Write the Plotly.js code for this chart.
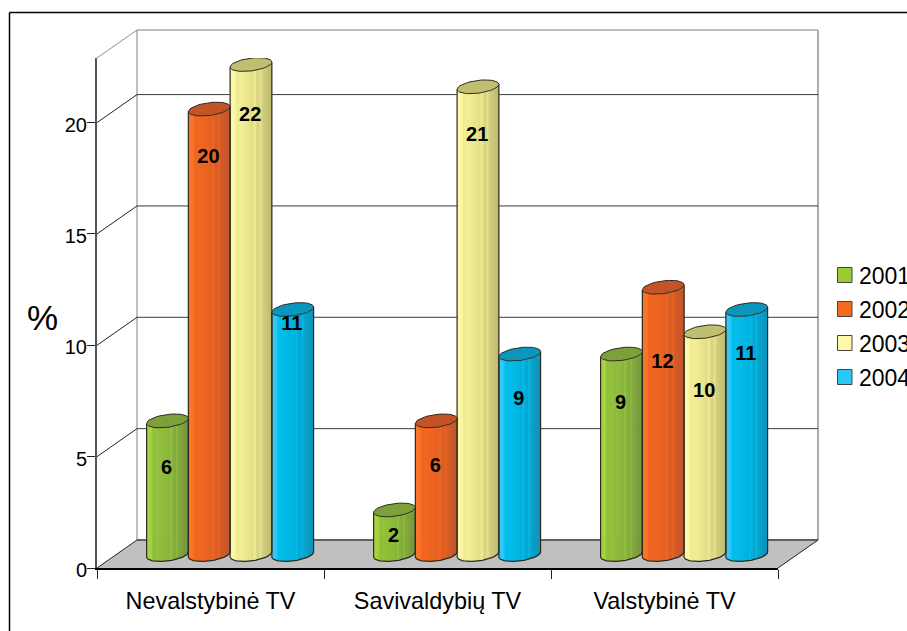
<!DOCTYPE html>
<html>
<head>
<meta charset="utf-8">
<script src="https://cdn.plot.ly/plotly-3.0.1.min.js"></script>
<style>html,body{margin:0;padding:0;background:#fff;overflow:hidden}#chart{width:907px;height:631px}</style>
</head>
<body>
<div id="chart"></div>
<script>
// ---- data ----
var categories = ['Nevalstybinė TV', 'Savivaldybių TV', 'Valstybinė TV'];
var seriesNames = ['2001', '2002', '2003', '2004'];
var v2001 = [6, 2, 9];
var v2002 = [20, 6, 12];
var v2003 = [22, 21, 10];
var v2004 = [11, 9, 11];
// heights at which each value label was placed in the original, in axis units
var label2001 = [4.46, 1.38, 7.36];
var label2002 = [18.42, 4.53, 9.2];
var label2003 = [20.28, 19.42, 7.9];
var label2004 = [10.9, 7.56, 9.56];
var yTicks = [0, 5, 10, 15, 20];

// ---- styling ----
var seriesValues = [v2001, v2002, v2003, v2004];
var seriesLabels = [label2001, label2002, label2003, label2004];
var ramps = [
  ['#A6D23E', '#8FBF38', '#75973A'],
  ['#FA7428', '#F06620', '#C4552B'],
  ['#FDF8A8', '#F0EC93', '#BFBC72'],
  ['#33C8F8', '#00BCE9', '#0A92BA']
];
var topColors = ['#7DA03A', '#C45426', '#C0BE70', '#0B96BE'];
var swatchColors = ['#99CC33', '#F56A20', '#FFF8A6', '#2CC5F7'];
var shade = [0, 0, 0.2, 1, 1, 0.9, 1, 1.05, 1.1, 1.15, 1.2, 1.3, 1.0, 1.4, 1.5, 1.2, 1.6, 1.7, 1.8, 1.9, 2];

// ---- plot geometry (pixels of the 907x631 page) ----
var L = 97, R = 778, T = 58, B = 568;
var W = R - L, H = B - T;
var yMax = 22.9, unit = H / yMax;
var depthX = 40, depthY = 28;
function pX(p) { return (p - L) / W; }
function pY(p) { return (B - p) / H; }
var slot = W / 3;
var groupStart = 49.6 / slot, barW = (167 / 4) / slot;
var baseLift = 13.5 / unit;          // cylinder centre sits above the axis
var halfH = 6.4 / unit, shear = 2.5 / unit;
var labelNudge = -0.8 / slot;

function hexMix(a, b, t) {
  var out = '#';
  for (var i = 1; i < 7; i += 2) {
    var va = parseInt(a.substr(i, 2), 16), vb = parseInt(b.substr(i, 2), 16);
    var c = Math.round(va + (vb - va) * t).toString(16);
    out += (c.length < 2 ? '0' : '') + c;
  }
  return out;
}
function rampColor(r, p) { return p <= 1 ? hexMix(r[0], r[1], p) : hexMix(r[1], r[2], p - 1); }

var traces = [];
var N = shade.length;
var tops = [], outlines = [], labels = [];

seriesValues.forEach(function (vals, s) {
  var sx = [], sb = [], sy = [], sc = [];
  var topX = [], topY = [], outX = [], outY = [], labX = [], labY = [], labT = [];
  vals.forEach(function (v, c) {
    var x0 = c + groupStart + s * barW;
    var cx = x0 + barW / 2;
    for (var k = 0; k < N; k++) {
      var xs = x0 + (k + 0.5) * barW / N;
      var t = (xs - cx) / (barW / 2);
      sx.push(xs);
      sb.push(baseLift + shear * t - halfH * Math.sqrt(1 - t * t));
      sy.push(v);
      sc.push(rampColor(ramps[s], shade[k]));
    }
    for (var a = 0; a <= 48; a++) {
      var th = a / 48 * 2 * Math.PI, ct = Math.cos(th), st = Math.sin(th);
      topX.push(cx + ct * barW / 2);
      topY.push(v + baseLift + shear * ct + halfH * st);
    }
    topX.push(null); topY.push(null);
    outX.push(x0); outY.push(v + baseLift - shear);
    for (var b = 0; b <= 32; b++) {
      var tb = -1 + 2 * b / 32;
      outX.push(cx + tb * barW / 2);
      outY.push(baseLift + shear * tb - halfH * Math.sqrt(1 - tb * tb));
    }
    outX.push(x0 + barW); outY.push(v + baseLift + shear);
    outX.push(null); outY.push(null);
    labX.push(cx + labelNudge); labY.push(seriesLabels[s][c]); labT.push(String(v));
  });
  // cylinder bodies: vertical shading strips with a curved lower end
  traces.push({
    type: 'bar', name: seriesNames[s], x: sx, y: sy, base: sb, width: 1.3 * barW / N,
    marker: { color: sc, line: { width: 0 } }, cliponaxis: false, hoverinfo: 'skip', showlegend: false
  });
  tops.push({
    type: 'scatter', mode: 'lines', x: topX, y: topY, fill: 'toself', fillcolor: topColors[s],
    line: { color: '#2b2b1f', width: 1 }, cliponaxis: false, hoverinfo: 'skip', showlegend: false
  });
  outlines.push({
    type: 'scatter', mode: 'lines', x: outX, y: outY,
    line: { color: '#2b2b1f', width: 1.2 }, cliponaxis: false, hoverinfo: 'skip', showlegend: false
  });
  labels.push({
    type: 'scatter', mode: 'text', x: labX, y: labY, text: labT, textposition: 'middle center',
    textfont: { family: 'Liberation Sans', size: 20, color: '#000', weight: 700 },
    cliponaxis: false, hoverinfo: 'skip', showlegend: false
  });
});
traces = traces.concat(outlines, tops, labels);

// ---- walls, floor, gridlines ----
var ddx = depthX / W, ddy = depthY / H;
var wallGrey = '#ababab', gridDark = '#3a3a3a';
function seg(x0, y0, x1, y1, color, width) {
  return { type: 'line', xref: 'paper', yref: 'paper', layer: 'below', x0: x0, y0: y0, x1: x1, y1: y1,
           line: { color: color, width: width } };
}
var shapes = [];
var topLevel = 1;
shapes.push({ type: 'path', xref: 'paper', yref: 'paper', layer: 'below',
  path: 'M0,0 L' + ddx + ',' + ddy + ' L' + (1 + ddx) + ',' + ddy + ' L1,0 Z',
  fillcolor: '#c0c0c0', line: { width: 0 } });
shapes.push(seg(ddx, ddy, ddx, topLevel + ddy, wallGrey, 1.5));
shapes.push(seg(1 + ddx, ddy, 1 + ddx, topLevel + ddy, wallGrey, 2));
shapes.push(seg(ddx, topLevel + ddy, 1 + ddx, topLevel + ddy, wallGrey, 1.5));
shapes.push(seg(0, topLevel, ddx, topLevel + ddy, '#8f8f8f', 1));
yTicks.forEach(function (t) {
  var f = t / yMax;
  if (t === 0) {
    shapes.push(seg(ddx, ddy, 1 + ddx, ddy, '#606060', 2));
    shapes.push(seg(0, 0, ddx, ddy, '#222', 1));
    shapes.push(seg(1, 0, 1 + ddx, ddy, '#222', 1));
  } else {
    shapes.push(seg(0, f, ddx, f + ddy, '#222', 1));
    shapes.push(seg(ddx, f + ddy, 1 + ddx, f + ddy, gridDark, 1));
  }
});
// outer frame, running off the page on the right and at the bottom
shapes.push(seg(pX(9.5), pY(12.5), pX(910), pY(12.5), '#000', 1.5));
shapes.push(seg(pX(9.5), pY(12.5), pX(9.5), pY(635), '#000', 1.5));

// ---- legend ----
var annotations = [{
  xref: 'paper', yref: 'paper', x: pX(42), y: pY(317), text: '%', showarrow: false,
  font: { family: 'Liberation Sans', size: 35, color: '#000' }, xanchor: 'center', yanchor: 'middle'
}];
seriesNames.forEach(function (name, i) {
  var cy = 275 + i * 34;
  shapes.push({ type: 'rect', xref: 'paper', yref: 'paper', x0: pX(837.5), x1: pX(852), y0: pY(cy - 7.5), y1: pY(cy + 7.5),
    fillcolor: swatchColors[i], line: { color: '#444', width: 1 } });
  annotations.push({ xref: 'paper', yref: 'paper', x: pX(857), y: pY(cy + 1), text: name, showarrow: false,
    xanchor: 'left', yanchor: 'middle',
    font: { family: 'Liberation Sans', size: 23, color: '#000' } });
});

var layout = {
  width: 907, height: 631,
  margin: { l: L, r: 907 - R, t: T, b: 631 - B, pad: 0 },
  paper_bgcolor: '#fff', plot_bgcolor: 'rgba(0,0,0,0)',
  barmode: 'overlay', showlegend: false,
  font: { family: 'Liberation Sans', color: '#000' },
  xaxis: {
    range: [0, 3], type: 'linear', fixedrange: true, showgrid: false, zeroline: false,
    showline: true, linecolor: '#000', linewidth: 1.5,
    tickmode: 'array', tickvals: [0.5, 1.5, 2.5], ticktext: categories, ticks: '',
    tickfont: { size: 23.4, family: 'Liberation Sans', color: '#000' }, ticklabelstandoff: 11,
    minor: { tickmode: 'array', tickvals: [0, 1, 2, 3], ticks: 'outside', ticklen: 9, tickwidth: 1, tickcolor: '#222', showgrid: false }
  },
  yaxis: {
    range: [0, yMax], fixedrange: true, showgrid: false, zeroline: false,
    showline: true, linecolor: '#555', linewidth: 2,
    tickmode: 'array', tickvals: yTicks, ticks: 'outside', ticklen: 8, tickwidth: 1, tickcolor: '#222',
    tickfont: { size: 20, family: 'Liberation Sans', color: '#000' },
    ticklabelstandoff: -4, ticklabelshift: 2
  },
  shapes: shapes,
  annotations: annotations
};
Plotly.newPlot('chart', traces, layout, { displayModeBar: false, staticPlot: true });
</script>
</body>
</html>
